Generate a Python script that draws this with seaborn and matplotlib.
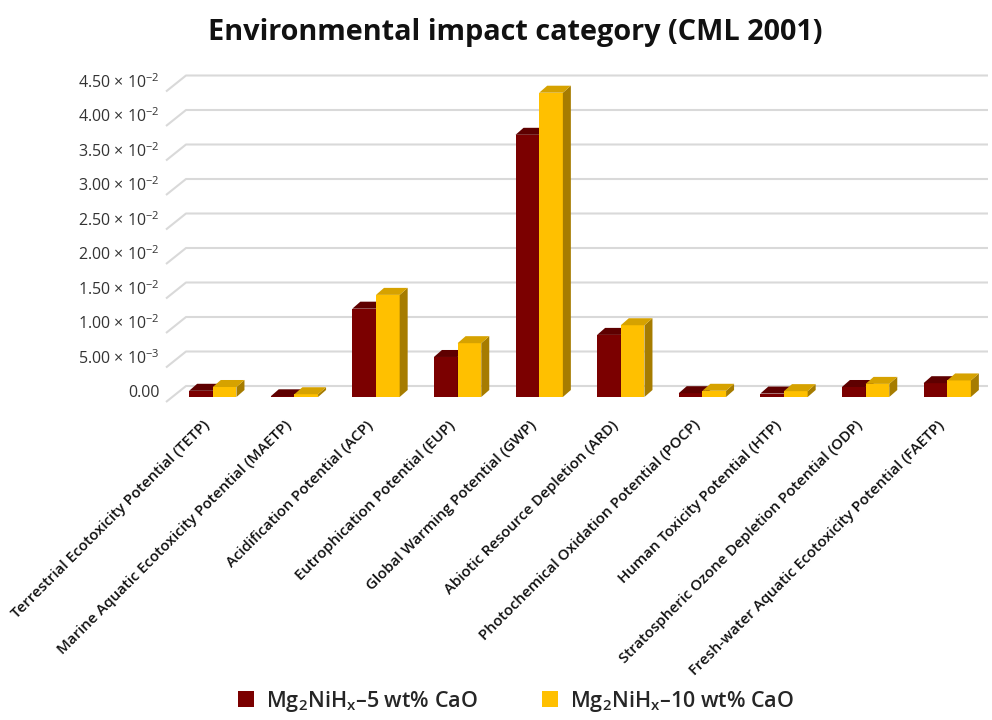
import numpy as np
import pandas as pd
import matplotlib
matplotlib.use("Agg")
import matplotlib.pyplot as plt
import matplotlib.transforms as mtransforms
from matplotlib.patches import Polygon, Patch
import seaborn as sns

categories = [
    "Terrestrial Ecotoxicity Potential (TETP)",
    "Marine Aquatic Ecotoxicity Potential (MAETP)",
    "Acidification Potential (ACP)",
    "Eutrophication Potential (EUP)",
    "Global Warming Potential (GWP)",
    "Abiotic Resource Depletion (ARD)",
    "Photochemical Oxidation Potential (POCP)",
    "Human Toxicity Potential (HTP)",
    "Stratospheric Ozone Depletion Potential (ODP)",
    "Fresh-water Aquatic Ecotoxicity Potential (FAETP)",
]
series_names = [r"Mg$_2$NiH$_\mathregular{x}$–5 wt% CaO",
                r"Mg$_2$NiH$_\mathregular{x}$–10 wt% CaO"]
cao_5 = [0.0009, 0.0001, 0.0128, 0.0058, 0.0380, 0.0090, 0.00055, 0.0005, 0.00145, 0.0020]
cao_10 = [0.00145, 0.0004, 0.0148, 0.0078, 0.0441, 0.0104, 0.0009, 0.00085, 0.0019, 0.0024]
y_ticks = [0.0, 0.005, 0.010, 0.015, 0.020, 0.025, 0.030, 0.035, 0.040, 0.045]
y_tick_labels = ["0.00", r"5.00 $\times$ 10$^{-3}$", r"1.00 $\times$ 10$^{-2}$",
                 r"1.50 $\times$ 10$^{-2}$", r"2.00 $\times$ 10$^{-2}$",
                 r"2.50 $\times$ 10$^{-2}$", r"3.00 $\times$ 10$^{-2}$",
                 r"3.50 $\times$ 10$^{-2}$", r"4.00 $\times$ 10$^{-2}$",
                 r"4.50 $\times$ 10$^{-2}$"]

front_colors = ["#7B0000", "#FFC000"]
top_colors = ["#5E0000", "#D6A200"]
side_colors = ["#520000", "#A67C00"]

df = pd.DataFrame({
    "category": categories * 2,
    "series": [series_names[0]] * len(categories) + [series_names[1]] * len(categories),
    "value": cao_5 + cao_10,
})

sns.set_theme(style="white")
plt.rcParams["font.family"] = ["Open Sans", "DejaVu Sans"]
plt.rcParams["mathtext.fontset"] = "custom"
plt.rcParams["mathtext.rm"] = "Open Sans"
plt.rcParams["mathtext.it"] = "Open Sans:italic"
plt.rcParams["mathtext.bf"] = "Open Sans:bold"
plt.rcParams["mathtext.default"] = "regular"

DPI = 100
fig = plt.figure(figsize=(9.92, 7.2), dpi=DPI)
ax = fig.add_axes([172 / 992, 323 / 720, 816 / 992, 310.5 / 720])

sns.barplot(data=df, x="category", y="value", hue="series", hue_order=series_names,
            palette=front_colors, width=0.58, dodge=True, ax=ax, legend=False,
            saturation=1, linewidth=0, zorder=2)
ax.set_xlim(-0.5, 9.5)
ax.set_ylim(0, 0.045)
for s in ax.spines.values():
    s.set_visible(False)
ax.set_xlabel("")
ax.set_ylabel("")
ax.grid(False)

fig.canvas.draw()
to_disp = ax.transData.transform
to_data = ax.transData.inverted().transform

# depth offsets in pixels
bar_dx, bar_dy = 8, 7
grid_front = (-6, 5)
grid_back = (14, -11)

# back-wall grid with diagonal floor edges
x_left_disp = to_disp((-0.5, 0))[0]
x_right_disp = 988
for yv in y_ticks:
    yd = to_disp((0, yv))[1]
    pts = np.array([[x_left_disp + grid_front[0], yd - grid_front[1]],
                    [x_left_disp + grid_back[0], yd - grid_back[1]],
                    [x_right_disp, yd - grid_back[1]]])
    dp = to_data(pts)
    ax.plot(dp[:, 0], dp[:, 1], color="#d9d9d9", lw=1.5, zorder=0.5,
            clip_on=False, solid_capstyle="butt")

# 3-D top and side faces on every bar
n = len(categories)
for i, patch in enumerate(ax.patches):
    s = i // n
    x0 = patch.get_x()
    w = patch.get_width()
    h = patch.get_height()
    patch.set_zorder(2 + s)
    (ax0, ay0) = to_disp((x0, 0))
    (ax1, ay1) = to_disp((x0 + w, h))
    top = np.array([[ax0, ay1], [ax1, ay1], [ax1 + bar_dx, ay1 + bar_dy], [ax0 + bar_dx, ay1 + bar_dy]])
    side = np.array([[ax1, ay0], [ax1, ay1], [ax1 + bar_dx, ay1 + bar_dy], [ax1 + bar_dx, ay0 + bar_dy]])
    ax.add_patch(Polygon(to_data(side), closed=True, facecolor=side_colors[s], lw=0,
                         zorder=2.1 + s, clip_on=False))
    ax.add_patch(Polygon(to_data(top), closed=True, facecolor=top_colors[s], lw=0,
                         zorder=2.1 + s, clip_on=False))

ax.set_yticks(y_ticks)
ax.set_yticklabels(y_tick_labels, fontsize=11.5, color="#333333")
ax.tick_params(axis="y", length=0, pad=9)
shift_up = mtransforms.ScaledTranslation(0, 6 / DPI, fig.dpi_scale_trans)
for lab in ax.get_yticklabels():
    lab.set_transform(lab.get_transform() + shift_up)

ax.set_xticks(range(n))
ax.set_xticklabels(categories, rotation=45, ha="right", rotation_mode="anchor",
                   fontsize=10.8, color="#111111", fontweight="semibold")
ax.tick_params(axis="x", length=0, pad=15)
shift_left = mtransforms.ScaledTranslation(-10 / DPI, 0, fig.dpi_scale_trans)
for lab in ax.get_xticklabels():
    lab.set_transform(lab.get_transform() + shift_left)

fig.suptitle("Environmental impact category (CML 2001)", x=515 / 992, y=0.975,
             fontsize=20.8, fontweight="bold", color="#111111")

handles = [Patch(facecolor=c, edgecolor="none") for c in front_colors]
fig.legend(handles, series_names, loc="lower center", bbox_to_anchor=(516 / 992, -0.018),
           ncol=2, frameon=False, handlelength=0.75, handleheight=0.75,
           handletextpad=0.55, columnspacing=3.0,
           prop={"size": 15.5, "weight": "semibold"})

fig.savefig("out.png", dpi=DPI)
